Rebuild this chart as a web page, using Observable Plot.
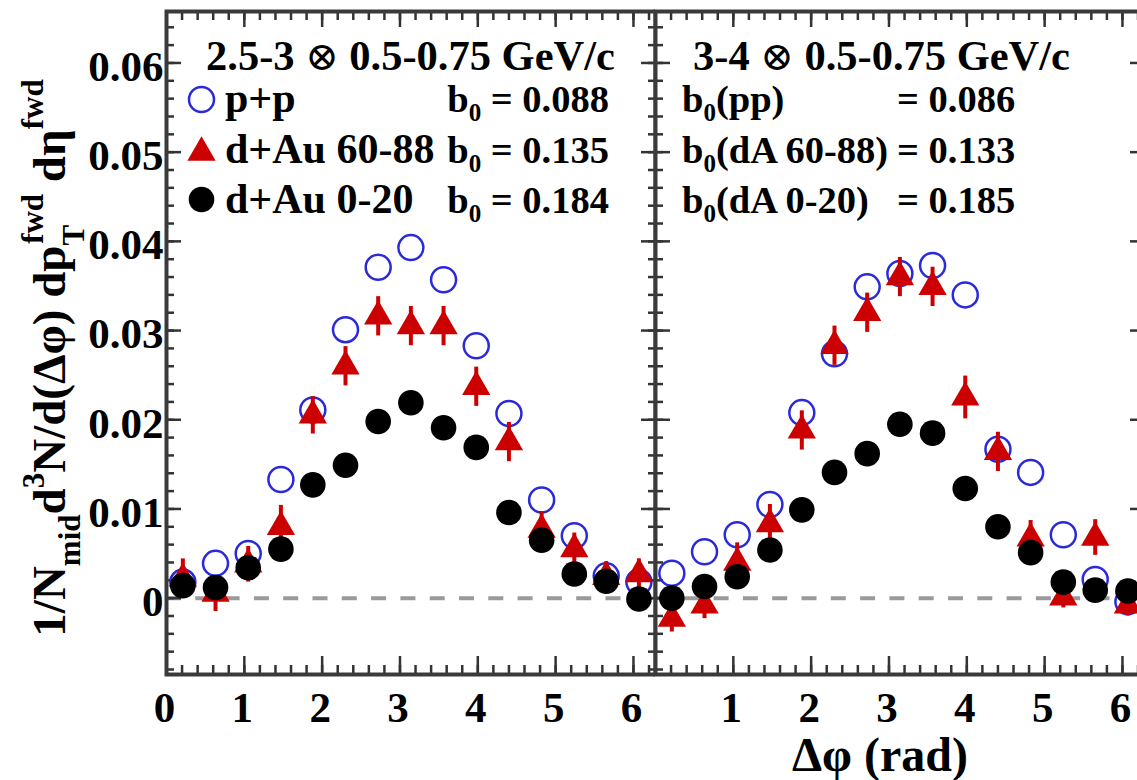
<!DOCTYPE html>
<html><head><meta charset="utf-8">
<script src="https://cdn.jsdelivr.net/npm/d3@7"></script>
<script src="https://cdn.jsdelivr.net/npm/@observablehq/plot@0.6"></script>
<style>
html,body{margin:0;padding:0;background:#fff;overflow:hidden;}
#wrap{position:relative;width:1137px;height:780px;overflow:hidden;background:#fff;}
#row{position:absolute;left:0;top:0;display:flex;width:1144px;}
#overlay{position:absolute;left:0;top:0;pointer-events:none;}
</style></head>
<body><div id="wrap"><div id="row"></div><svg id="overlay" width="1137" height="780"></svg></div>
<script>
// ---- data ----
const phiBins = [0.21, 0.63, 1.05, 1.47, 1.88, 2.30, 2.72, 3.14, 3.56, 3.98, 4.40, 4.82, 5.24, 5.65, 6.07];

const seriesNames = ["p+p", "d+Au 60-88", "d+Au 0-20"];
const panelTitles = ["2.5-3 \u2297 0.5-0.75 GeV/c", "3-4 \u2297 0.5-0.75 GeV/c"];
const leftB0 = ["0.088", "0.135", "0.184"];
const rightB0Labels = ["pp", "dA 60-88", "dA 0-20"];
const rightB0 = ["0.086", "0.133", "0.185"];

// left panel: 2.5-3 x 0.5-0.75 GeV/c
const leftPP     = [0.0018, 0.0039, 0.0050, 0.0133, 0.0211, 0.0301, 0.0371, 0.0393, 0.0357, 0.0283, 0.0207, 0.0110, 0.0070, 0.0025, 0.0018];
const leftDA60   = [0.0022, 0.0005, 0.0038, 0.0080, 0.0205, 0.0260, 0.0316, 0.0305, 0.0305, 0.0237, 0.0175, 0.0077, 0.0055, 0.0024, 0.0027];
const leftDA60Err= [0.0022, 0.0020, 0.0020, 0.0024, 0.0021, 0.0022, 0.0022, 0.0022, 0.0022, 0.0022, 0.0022, 0.0020, 0.0018, 0.0017, 0.0017];
const leftDA0    = [0.0014, 0.0012, 0.0034, 0.0055, 0.0127, 0.0149, 0.0198, 0.0219, 0.0191, 0.0169, 0.0096, 0.0065, 0.0027, 0.0019, -0.0001];

// right panel: 3-4 x 0.5-0.75 GeV/c
const rightPP     = [0.0028, 0.0052, 0.0071, 0.0105, 0.0208, 0.0274, 0.0349, 0.0364, 0.0373, 0.0340, 0.0167, 0.0141, 0.0071, 0.0021, -0.0004];
const rightDA60   = [-0.0023, -0.0008, 0.0040, 0.0083, 0.0188, 0.0283, 0.0320, 0.0360, 0.0349, 0.0225, 0.0164, 0.0067, 0.0001, 0.0068, -0.0008];
const rightDA60Err= [0.0015, 0.0015, 0.0022, 0.0022, 0.0022, 0.0022, 0.0022, 0.0022, 0.0022, 0.0024, 0.0022, 0.0020, 0.0012, 0.0020, 0.0012];
const rightDA0    = [0.0000, 0.0013, 0.0024, 0.0054, 0.0099, 0.0141, 0.0162, 0.0195, 0.0185, 0.0123, 0.0080, 0.0051, 0.0018, 0.0009, 0.0008];

// axes
const yTicks = [0, 0.01, 0.02, 0.03, 0.04, 0.05, 0.06];
const yTickLabels = ["0", "0.01", "0.02", "0.03", "0.04", "0.05", "0.06"];
const yMinorTicks = d3.range(-8, 66, 2).map(d => d / 1000);
const xTicks = [0, 1, 2, 3, 4, 5, 6];
const leftXTickLabels = ["0", "1", "2", "3", "4", "5", "6"];
const rightXTicks = [1, 2, 3, 4, 5, 6];
const rightXTickLabels = ["1", "2", "3", "4", "5", "6"];
const xMinorTicks = d3.range(0, 32, 1).map(d => d * 0.2);
const yDomain = [-0.00856, 0.06577];
const xDomain = [0, 2 * Math.PI];

// ---- styles ----
const FONT = "'Liberation Serif', 'Times New Roman', 'DejaVu Serif', serif";
const BLUE = "#2a2ad8", RED = "#cc0000", AXIS = "#333";

function rows(vals, errs) { return vals.map((v, i) => ({phi: phiBins[i], v, e: errs ? errs[i] : 0})); }

function panel({width, marginLeft, pp, dA60, dA60Err, dA0, xt, xtl, yLabels, legend}) {
  const ppR = rows(pp), r60 = rows(dA60, dA60Err), r0 = rows(dA0);
  const marks = [
    Plot.ruleY([0], {stroke: "#9a9a9a", strokeWidth: 4, strokeDasharray: "15,14.3"}),
    // inward ticks on all sides
    Plot.axisX({anchor: "bottom", ticks: xMinorTicks, tickSize: -9, text: null, label: null, stroke: AXIS, strokeWidth: 2.5}),
    Plot.axisX({anchor: "bottom", ticks: xTicks, tickSize: -18, text: null, label: null, stroke: AXIS, strokeWidth: 2.5}),
    Plot.axisX({anchor: "top", ticks: xMinorTicks, tickSize: -8, text: null, label: null, stroke: AXIS, strokeWidth: 2.5}),
    Plot.axisX({anchor: "top", ticks: xTicks, tickSize: -15, text: null, label: null, stroke: AXIS, strokeWidth: 2.5}),
    Plot.axisY({anchor: "left", ticks: yMinorTicks, tickSize: -8, text: null, label: null, stroke: AXIS, strokeWidth: 2.5}),
    Plot.axisY({anchor: "left", ticks: yTicks, tickSize: -15, text: null, label: null, stroke: AXIS, strokeWidth: 2.5}),
    Plot.axisY({anchor: "right", ticks: yMinorTicks, tickSize: -8, text: null, label: null, stroke: AXIS, strokeWidth: 2.5}),
    Plot.axisY({anchor: "right", ticks: yTicks, tickSize: -15, text: null, label: null, stroke: AXIS, strokeWidth: 2.5}),
    Plot.axisX({anchor: "bottom", ticks: xt, tickSize: 0, tickPadding: 17, label: null, fontSize: 43, dx: -2, fill: "black",
      tickFormat: d => xtl[xt.indexOf(d)]}),
  ];
  if (yLabels) marks.push(Plot.axisY({anchor: "left", ticks: yTicks, tickSize: 0, tickPadding: 3, label: null, fontSize: 43, dy: 4, fill: "black",
      tickFormat: d => yTickLabels[yTicks.indexOf(d)]}));
  else marks.push(Plot.axisY({anchor: "left", ticks: [], label: null}));
  marks.push(
    Plot.dot(ppR, {x: "phi", y: "v", r: 12.5, stroke: BLUE, strokeWidth: 2.5, fill: "none"}),
    Plot.ruleX(r60, {x: "phi", y1: d => d.v - d.e, y2: d => d.v + d.e, stroke: RED, strokeWidth: 4}),
    Plot.dot(r60, {x: "phi", y: "v", symbol: "triangle", r: 10.5, fill: RED}),
    Plot.dot(r0, {x: "phi", y: "v", r: 12.8, fill: "black"}),
  );
  if (legend) marks.push(
    Plot.dot([seriesNames[0]], {frameAnchor: "top-left", dx: 35, dy: 88, r: 12.5, stroke: BLUE, strokeWidth: 2.5, fill: "none"}),
    Plot.dot([seriesNames[1]], {frameAnchor: "top-left", dx: 35, dy: 141, symbol: "triangle", r: 10.5, fill: RED}),
    Plot.dot([seriesNames[2]], {frameAnchor: "top-left", dx: 35, dy: 188, r: 12.8, fill: "black"}),
  );
  marks.push(Plot.frame({stroke: "#3a3a3a", strokeWidth: 4}));
  return Plot.plot({
    width, height: 780, marginLeft, marginRight: 0, marginTop: 11, marginBottom: 106,
    x: {domain: xDomain, label: null}, y: {domain: yDomain, label: null},
    style: {fontFamily: FONT, fontWeight: "bold", background: "white", overflow: "visible", color: "black"},
    marks
  });
}

const row = document.getElementById("row");
row.appendChild(panel({width: 655, marginLeft: 166, pp: leftPP, dA60: leftDA60, dA60Err: leftDA60Err, dA0: leftDA0,
  xt: xTicks, xtl: leftXTickLabels, yLabels: true, legend: true}));
row.appendChild(panel({width: 489, marginLeft: 0, pp: rightPP, dA60: rightDA60, dA60Err: rightDA60Err, dA0: rightDA0,
  xt: rightXTicks, xtl: rightXTickLabels, yLabels: false, legend: false}));

// ---- text overlay ----
const ov = d3.select("#overlay");
function addText(x, y, parts, opts = {}) {
  const t = ov.append("text").attr("x", x).attr("y", y)
    .attr("font-family", FONT).attr("font-weight", "bold")
    .attr("font-size", opts.size || 42).attr("text-anchor", opts.anchor || "start").attr("fill", "black");
  if (opts.transform) t.attr("transform", opts.transform);
  for (const p of parts) {
    const s = t.append("tspan").text(p.t);
    if (p.size) s.attr("font-size", p.size);
    if (p.dy) s.attr("dy", p.dy);
    if (p.dx) s.attr("dx", p.dx);
    if (p.weight) s.attr("font-weight", p.weight);
  }
  return t;
}
// panel titles (the ⊗ drawn in a thin weight)
function titleParts(s) {
  const [a, b] = s.split("\u2297");
  return [{t: a}, {t: "\u2297", weight: "normal", size: 40}, {t: b}];
}
addText(206, 70, titleParts(panelTitles[0]), {size: 42.5});
addText(693, 70, titleParts(panelTitles[1]), {size: 42.5});
// left legend
const rowBase = [112, 163, 213];
seriesNames.forEach((s, i) => addText(225, rowBase[i], [{t: s}], {size: 42}));
leftB0.forEach((v, i) => addText(609, rowBase[i], [{t: "b"}, {t: "0", size: 25, dy: 9}, {t: " = " + v, dy: -9}], {size: 38.5, anchor: "end"}));
// right b0 list
rightB0Labels.forEach((s, i) => {
  addText(682, rowBase[i], [{t: "b"}, {t: "0", size: 25, dy: 9}, {t: "(" + s + ")", dy: -9}], {size: 38.5});
  addText(897, rowBase[i], [{t: "= " + rightB0[i]}], {size: 38.5});
});
// y-axis title
addText(0, 0, [
  {t: "1/N"},
  {t: "mid", size: 31, dy: 15},
  {t: "d", dy: -15},
  {t: "3", size: 31, dy: -21},
  {t: "N/d(\u0394\u03c6) dp", dy: 21},
  {t: "T", size: 31, dy: 19},
  {t: "fwd", size: 31, dx: -19, dy: -41},
  {t: " d\u03b7", dy: 22},
  {t: "fwd", size: 31, dy: -22},
], {size: 47, anchor: "middle", transform: "translate(65,358) rotate(-90)"});
// x-axis title
addText(880, 771, [{t: "\u0394\u03c6 (rad)"}], {size: 48, anchor: "middle"});
</script>
</body></html>
